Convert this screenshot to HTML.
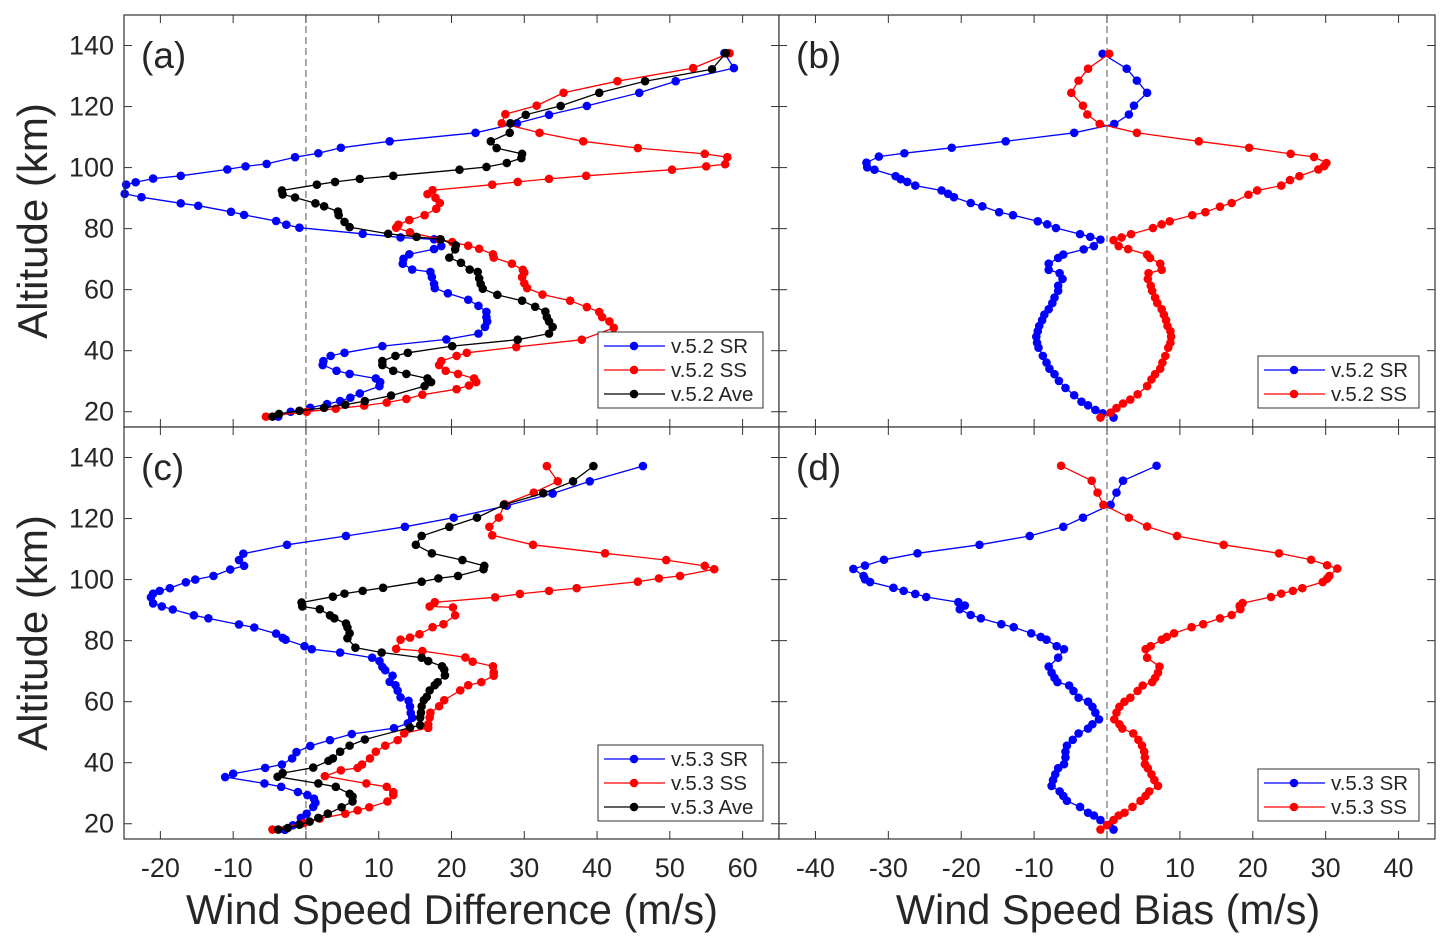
<!DOCTYPE html>
<html><head><meta charset="utf-8"><style>
body{margin:0;background:#fff;}
svg{display:block;font-family:"Liberation Sans",Arial,sans-serif;}
</style></head><body>
<svg id="chart" width="1450" height="946" viewBox="0 0 1450 946"></svg>
<script>
// ---- Panel (a) v5.2 difference ----
const aSR_x=[57.5,58.8,50.8,45.8,38.6,33.4,29.0,23.3,11.5,4.8,1.7,-1.5,-5.4,-8.3,-10.8,-17.2,-21.0,-23.4,-24.7,-24.9,-22.6,-17.2,-14.8,-10.3,-8.5,-4.1,-2.7,-0.9,7.8,13.0,17.6,18.6,17.6,14.2,13.4,13.3,14.6,17.1,17.3,17.6,17.7,19.5,22.3,23.7,24.8,24.8,24.9,24.6,23.7,19.3,10.5,5.3,3.4,2.4,2.3,4.2,6.0,9.6,10.2,10.1,7.4,6.1,4.7,2.9,0.6,-2.1,-3.8];
const aSR_y=[137.5,132.6,128.3,124.5,120.2,117.3,114.5,111.4,108.6,106.5,104.7,103.4,101.2,100.4,99.4,97.3,96.4,95.2,94.4,91.4,90.3,88.3,87.5,85.5,84.5,82.5,81.3,80.3,78.3,77.1,76.5,74.3,73.3,71.6,70.1,68.5,66.6,65.8,64.1,61.9,60.5,58.8,56.7,54.7,52.7,51.0,49.6,47.8,45.6,43.7,41.5,39.3,38.3,36.6,35.3,33.4,32.4,30.9,29.7,28.4,26.0,24.6,23.5,22.5,21.3,20.0,18.4];
const aSS_x=[58.2,53.2,42.8,35.4,31.7,27.4,26.9,32.1,38.1,45.6,54.8,57.9,57.6,55.0,50.3,38.5,33.4,29.1,25.6,17.4,16.7,17.8,18.4,17.9,16.3,14.2,12.7,12.4,14.3,18.4,20.1,22.3,23.8,25.7,25.8,28.3,29.8,30.0,29.7,30.0,30.4,32.5,36.3,38.6,40.3,40.7,41.7,42.3,37.9,28.9,22.1,20.7,18.6,18.3,19.2,20.9,23.1,23.4,22.4,20.7,16.0,13.8,11.1,8.0,4.1,0.1,-5.5];
const aSS_y=[137.5,132.6,128.3,124.5,120.3,117.5,114.5,111.4,108.6,106.4,104.5,103.4,101.1,100.4,99.3,97.3,96.3,95.3,94.4,92.6,91.3,90.1,88.4,86.5,84.4,82.8,81.3,80.3,78.8,76.5,75.6,74.4,73.4,71.6,70.5,68.5,66.5,65.6,64.1,62.1,60.5,58.4,56.4,54.3,52.7,51.0,49.6,47.5,43.6,41.2,39.3,38.3,36.6,35.3,33.4,32.4,30.9,29.7,28.6,27.4,25.6,24.2,23.0,22.0,21.0,20.0,18.4];
const aAve_x=[57.7,55.8,46.6,40.3,35.0,30.2,28.1,28.0,25.4,26.2,29.7,29.6,27.6,24.8,21.1,12.0,7.4,4.0,1.5,-3.3,-3.2,-1.5,1.3,2.5,4.4,4.5,5.3,6.0,11.3,15.2,18.5,20.6,20.5,19.7,21.3,22.5,23.6,23.8,24.0,24.3,26.3,29.7,31.5,32.9,33.1,33.4,33.9,33.4,29.1,20.1,14.0,12.3,10.5,10.5,12.0,13.8,16.7,17.2,16.3,11.7,8.1,5.4,2.5,-0.9,-3.7,-4.6];
const aAve_y=[137.5,132.2,128.3,124.5,120.2,117.3,114.5,111.4,108.6,106.4,104.5,103.1,101.5,100.2,99.3,97.3,96.3,95.3,94.4,92.5,91.2,90.2,88.3,87.3,85.6,84.4,82.2,80.5,78.3,77.3,76.5,74.5,73.2,70.5,68.8,66.6,65.8,63.7,61.9,60.3,58.3,56.4,54.4,52.8,51.0,49.6,47.8,45.6,43.6,41.5,39.3,38.3,36.6,35.3,33.4,32.4,30.9,29.7,28.4,25.3,23.5,22.3,21.3,20.3,19.3,18.4];
// ---- Panel (b) v5.2 bias ----
const bSR_x=[-0.6,2.7,4.1,5.5,3.7,3.0,1.0,-4.5,-13.9,-21.3,-27.8,-31.3,-33.0,-32.9,-31.9,-29.0,-28.3,-27.4,-26.3,-22.7,-21.8,-21.0,-18.7,-17.1,-14.8,-12.9,-9.5,-8.2,-7.0,-3.7,-2.3,-0.9,-1.8,-3.2,-6.0,-6.7,-8.0,-8.0,-6.5,-6.1,-6.7,-6.7,-7.2,-7.5,-8.0,-8.6,-8.9,-9.3,-9.5,-9.7,-9.6,-9.4,-8.8,-8.3,-7.9,-7.2,-6.6,-5.7,-4.5,-3.5,-2.6,-1.6,-0.6,0.9];
const bSR_y=[137.3,132.4,128.5,124.5,120.3,117.4,114.3,111.4,108.6,106.5,104.7,103.6,101.6,100.1,99.3,97.2,96.2,95.3,94.1,92.5,91.4,90.3,88.4,87.3,85.4,84.4,82.4,81.4,80.2,78.2,77.3,76.4,74.3,73.2,71.5,70.4,68.5,66.5,65.4,63.5,61.3,59.6,57.4,55.6,53.6,51.8,50.0,48.1,46.4,44.6,42.6,41.0,38.3,36.1,34.1,32.3,30.1,27.8,25.4,23.3,22.1,20.6,19.5,18.1];
const bSS_x=[0.3,-2.6,-3.9,-4.9,-3.3,-2.7,-1.0,4.1,12.6,19.5,25.2,28.4,30.1,29.8,29.0,26.4,25.1,23.9,20.6,19.4,17.1,15.5,13.5,11.7,8.6,7.5,6.3,3.3,2.0,0.9,1.6,2.9,5.5,5.9,7.3,7.5,5.7,5.6,6.0,6.2,6.6,6.9,7.5,7.8,8.1,8.3,8.7,8.8,8.7,8.4,8.0,7.6,7.3,6.6,6.1,5.5,4.2,3.2,2.2,1.3,0.5,-0.9];
const bSS_y=[137.3,132.4,128.5,124.5,120.3,117.4,114.3,111.4,108.6,106.5,104.5,103.5,101.5,100.5,99.4,97.2,95.9,94.1,92.5,91.1,88.4,87.2,85.4,84.4,82.4,81.4,80.2,78.2,77.1,76.2,74.3,73.3,71.5,70.4,68.5,66.5,65.4,63.5,61.3,59.6,57.4,55.6,53.6,51.8,50.0,48.1,46.4,44.6,42.6,41.0,38.3,36.1,34.1,32.3,30.6,28.4,25.7,24.0,22.7,21.2,19.7,18.1];
// ---- Panel (c) v5.3 difference ----
const cSR_x=[46.3,39.0,33.9,27.6,20.3,13.6,5.5,-2.6,-8.6,-9.2,-8.5,-10.4,-12.7,-15.2,-16.5,-18.7,-20.1,-21.0,-21.3,-21.0,-19.8,-18.3,-15.4,-13.4,-9.2,-7.1,-4.1,-3.2,-2.8,-0.2,0.8,4.7,9.1,10.1,10.5,10.9,11.9,11.5,12.3,12.6,13.0,14.1,14.3,14.4,14.6,14.0,12.1,6.3,3.3,0.6,-1.3,-1.9,-3.3,-5.6,-10.0,-11.1,-5.7,-3.4,-1.1,0.2,1.1,1.3,1.0,0.1,-0.7,-1.8,-2.9];
const cSR_y=[137.2,132.2,128.2,124.2,120.3,117.3,114.3,111.4,108.5,106.4,104.5,103.3,101.2,100.0,99.1,97.2,96.3,95.4,94.2,92.2,91.2,90.2,88.3,87.3,85.3,84.3,82.3,80.9,80.3,78.2,77.2,76.1,74.4,73.3,71.4,70.3,68.5,66.5,65.4,63.6,61.4,60.3,58.4,56.3,54.7,52.9,51.3,49.4,47.4,45.5,43.5,41.4,39.4,38.3,36.4,35.3,33.2,32.1,30.4,29.4,28.2,26.9,25.5,23.3,21.9,19.5,18.0];
const cSS_x=[33.1,34.6,31.3,27.3,26.5,25.2,25.6,31.2,41.1,49.5,54.8,56.1,51.4,48.5,45.6,37.2,33.4,29.4,26.0,17.7,17.0,20.2,20.5,18.9,17.4,15.6,14.3,13.0,12.4,16.0,21.9,22.9,25.7,25.8,25.8,24.1,22.3,21.2,19.0,18.3,17.1,17.0,16.8,16.8,13.5,12.6,10.9,9.6,8.8,7.7,7.1,4.8,2.6,8.3,11.1,12.0,12.0,11.2,8.7,7.1,5.4,1.9,-0.3,-4.6];
const cSS_y=[137.2,132.2,128.5,124.7,120.3,117.3,114.5,111.4,108.6,106.4,104.5,103.4,101.2,100.4,99.3,97.2,96.3,95.3,94.2,92.6,91.2,90.9,88.3,85.4,84.4,82.1,81.0,80.3,77.3,76.6,74.5,73.1,71.6,69.6,68.5,66.4,65.4,63.7,60.5,58.5,56.4,54.8,52.6,51.4,49.6,47.4,45.6,43.6,41.4,39.4,38.3,37.5,35.6,33.2,32.1,30.4,29.4,27.3,25.4,24.4,23.3,21.7,20.2,18.1];
const cAve_x=[39.5,36.7,32.6,27.2,23.5,19.7,15.9,15.1,17.3,21.5,24.5,24.4,20.9,18.2,15.9,10.6,7.8,5.3,3.7,-0.6,-0.5,1.9,3.3,3.9,5.5,5.7,6.0,5.7,6.8,10.4,15.9,16.8,18.7,19.0,19.1,18.1,17.7,17.0,16.6,16.2,15.9,15.8,15.7,15.7,14.3,8.1,6.0,4.7,3.7,3.1,1.0,-3.2,-3.9,1.7,4.1,6.0,6.4,6.4,4.9,3.0,1.7,0.5,-0.9,-2.5,-3.8];
const cAve_y=[137.2,132.2,128.3,124.5,120.3,117.3,114.3,111.4,108.6,106.4,104.5,103.4,101.2,100.4,99.3,97.3,96.3,95.4,94.4,92.5,91.2,90.3,88.3,87.3,85.6,84.3,82.4,80.8,77.7,76.1,74.4,73.3,71.6,70.5,68.6,66.4,65.4,63.7,61.6,60.5,58.5,56.4,54.8,52.3,51.5,47.6,45.6,43.6,41.4,40.6,38.4,36.6,35.4,33.2,32.1,29.8,28.9,27.3,25.4,23.3,21.9,20.7,19.7,18.6,18.1];
// ---- Panel (d) v5.3 bias ----
const dSR_x=[6.8,2.2,1.3,0.5,-3.3,-6.0,-10.6,-17.5,-26.0,-30.6,-33.2,-34.8,-33.4,-33.2,-32.5,-29.3,-27.9,-26.3,-24.8,-20.4,-19.5,-20.2,-18.7,-17.3,-14.5,-12.8,-10.4,-9.1,-8.3,-6.9,-5.9,-6.7,-8.0,-7.6,-7.2,-6.8,-5.2,-4.6,-3.9,-2.6,-2.0,-1.6,-1.1,-2.0,-2.6,-3.9,-4.7,-5.5,-5.7,-5.7,-5.9,-6.7,-7.1,-7.4,-7.6,-6.5,-6.0,-5.5,-3.7,-2.6,-1.8,-0.9,0.3,0.9];
const dSR_y=[137.3,132.4,128.5,124.5,120.3,117.3,114.3,111.4,108.6,106.5,104.6,103.5,101.2,100.1,99.2,97.3,96.3,95.3,94.3,92.6,91.5,90.3,88.4,87.3,85.4,84.4,82.4,81.2,80.3,78.2,77.2,74.4,71.5,69.5,67.8,66.4,65.3,63.5,61.3,60.0,58.3,56.4,54.2,52.6,51.2,49.6,47.5,45.6,43.6,41.7,39.5,38.2,36.2,34.3,32.4,30.6,29.1,27.5,25.5,23.6,22.7,21.2,19.6,18.1];
const dSS_x=[-6.3,-2.1,-1.3,-0.5,3.0,5.5,9.6,16.0,23.6,28.0,30.2,31.6,30.5,30.2,29.6,26.8,25.5,23.9,22.5,18.6,18.2,18.3,17.1,15.5,13.2,11.6,9.2,8.2,7.5,6.0,5.3,5.5,7.2,7.0,6.6,6.2,4.9,4.2,3.2,2.4,1.7,1.3,1.0,1.7,2.1,3.6,4.3,4.8,5.1,5.2,5.2,5.6,6.1,6.5,7.0,5.8,5.3,4.6,3.5,2.4,1.6,0.9,0.0,-0.9];
const dSS_y=[137.3,132.4,128.5,124.5,120.3,117.4,114.3,111.4,108.6,106.5,104.7,103.6,101.2,100.3,99.2,97.2,96.3,95.4,94.3,92.3,91.4,90.3,88.4,87.3,85.4,84.4,82.4,81.2,80.3,78.2,77.2,74.4,71.5,69.5,67.8,66.4,65.3,63.5,61.3,60.0,58.3,56.4,54.2,52.6,51.2,49.6,47.5,45.6,43.6,41.7,39.5,38.2,36.2,34.3,32.4,30.6,29.1,27.5,25.5,23.6,22.7,21.2,19.6,18.1];
// ---- ticks ----
const yTicks=[20,40,60,80,100,120,140];
const xTicksLeft=[-20,-10,0,10,20,30,40,50,60];
const xTicksRight=[-40,-30,-20,-10,0,10,20,30,40];

const NS='http://www.w3.org/2000/svg';
const svg=document.getElementById('chart');
function mk(tag,attrs,parent){const e=document.createElementNS(NS,tag);for(const k in attrs)e.setAttribute(k,attrs[k]);(parent||svg).appendChild(e);return e;}

const panels=[
 {id:'a',x0:124,x1:779,y0:15,y1:427,xmin:-25,xmax:65,xt:xTicksLeft,series:[[aSR_x,aSR_y,'#0000ff'],[aSS_x,aSS_y,'#ff0000'],[aAve_x,aAve_y,'#000000']],leg:['v.5.2 SR','v.5.2 SS','v.5.2 Ave']},
 {id:'b',x0:779,x1:1435,y0:15,y1:427,xmin:-45,xmax:45,xt:xTicksRight,series:[[bSR_x,bSR_y,'#0000ff'],[bSS_x,bSS_y,'#ff0000']],leg:['v.5.2 SR','v.5.2 SS']},
 {id:'c',x0:124,x1:779,y0:427,y1:839,xmin:-25,xmax:65,xt:xTicksLeft,series:[[cSR_x,cSR_y,'#0000ff'],[cSS_x,cSS_y,'#ff0000'],[cAve_x,cAve_y,'#000000']],leg:['v.5.3 SR','v.5.3 SS','v.5.3 Ave']},
 {id:'d',x0:779,x1:1435,y0:427,y1:839,xmin:-45,xmax:45,xt:xTicksRight,series:[[dSR_x,dSR_y,'#0000ff'],[dSS_x,dSS_y,'#ff0000']],leg:['v.5.3 SR','v.5.3 SS']}
];
const ymin=15,ymax=150;
const names=['sr','ss','ave'];
panels.forEach(p=>{
 const g=mk('g',{});
 
 
 const X=v=>p.x0+(v-p.xmin)/(p.xmax-p.xmin)*(p.x1-p.x0);
 const Y=v=>p.y1-(v-ymin)/(ymax-ymin)*(p.y1-p.y0);
 mk('rect',{x:p.x0,y:p.y0,width:p.x1-p.x0,height:p.y1-p.y0,fill:'#fff',stroke:'none'},g);
 const zl=mk('line',{x1:X(0),x2:X(0),y1:p.y0,y2:p.y1,stroke:'#555','stroke-width':1,'stroke-dasharray':'7,4'},g);
 
 
 p.xt.forEach(t=>{
  mk('line',{x1:X(t),x2:X(t),y1:p.y1,y2:p.y1-8,stroke:'#333','stroke-width':1},g);
  mk('line',{x1:X(t),x2:X(t),y1:p.y0,y2:p.y0+8,stroke:'#333','stroke-width':1},g);
 });
 yTicks.forEach(t=>{
  mk('line',{x1:p.x0,x2:p.x0+8,y1:Y(t),y2:Y(t),stroke:'#333','stroke-width':1},g);
  mk('line',{x1:p.x1,x2:p.x1-8,y1:Y(t),y2:Y(t),stroke:'#333','stroke-width':1},g);
  if(p.x0<200){
   const tl=mk('text',{x:p.x0-10,y:Y(t)+9,'text-anchor':'end','font-size':27,fill:'#262626'},svg);
   tl.textContent=t;
   
   
  }
 });
 if(p.y1>800){
  p.xt.forEach(t=>{
   const xl=mk('text',{x:X(t),y:877,'text-anchor':'middle','font-size':27,fill:'#262626'},svg);
   xl.textContent=t;
   
   
  });
 }
 p.series.forEach((s,i)=>{
  const pts=s[0].map((v,k)=>X(v).toFixed(1)+','+Y(s[1][k]).toFixed(1)).join(' ');
  const pl=mk('polyline',{points:pts,fill:'none',stroke:s[2],'stroke-width':1.3},g);
  
  
  s[0].forEach((v,k)=>{
   const c=mk('circle',{cx:X(v),cy:Y(s[1][k]),r:4.3,fill:s[2]},g);
   
   
  });
 });
 mk('rect',{x:p.x0,y:p.y0,width:p.x1-p.x0,height:p.y1-p.y0,fill:'none',stroke:'#333','stroke-width':1.2},g);
 const lab=mk('text',{x:p.x0+17,y:p.y0+53,'font-size':37,fill:'#262626'},g);
 lab.textContent='('+p.id+')';
 
 
 // legend
 const n=p.leg.length;
 const lx0=p.x0<200?598:1258, lw=p.x0<200?165:161;
 const ly1=p.y0+(p.y0<100?393:394);
 const lh=n*24+4;
 const lg=mk('g',{},svg);
 
 
 mk('rect',{x:lx0,y:ly1-lh,width:lw,height:lh,fill:'#fff',stroke:'#333','stroke-width':1},lg);
 p.leg.forEach((t,i)=>{
  const yy=ly1-lh+14+i*24;
  mk('line',{x1:lx0+6,x2:lx0+67,y1:yy,y2:yy,stroke:p.series[i][2],'stroke-width':1.3},lg);
  mk('circle',{cx:lx0+36,cy:yy,r:4.3,fill:p.series[i][2]},lg);
  const tx=mk('text',{x:lx0+73,y:yy+7,'font-size':20.5,fill:'#262626'},lg);
  tx.textContent=t;
  
  
 });
});
[221,633].forEach(cy=>{
 const t=mk('text',{x:47,y:cy,'text-anchor':'middle','font-size':42,fill:'#262626',transform:'rotate(-90 47 '+cy+')'});
 t.textContent='Altitude (km)';
 
 
});
const xt1=mk('text',{x:452,y:924,'text-anchor':'middle','font-size':41.5,fill:'#262626'});
xt1.textContent='Wind Speed Difference (m/s)';


const xt2=mk('text',{x:1108,y:924,'text-anchor':'middle','font-size':41.5,fill:'#262626'});
xt2.textContent='Wind Speed Bias (m/s)';


</script>
</body></html>
